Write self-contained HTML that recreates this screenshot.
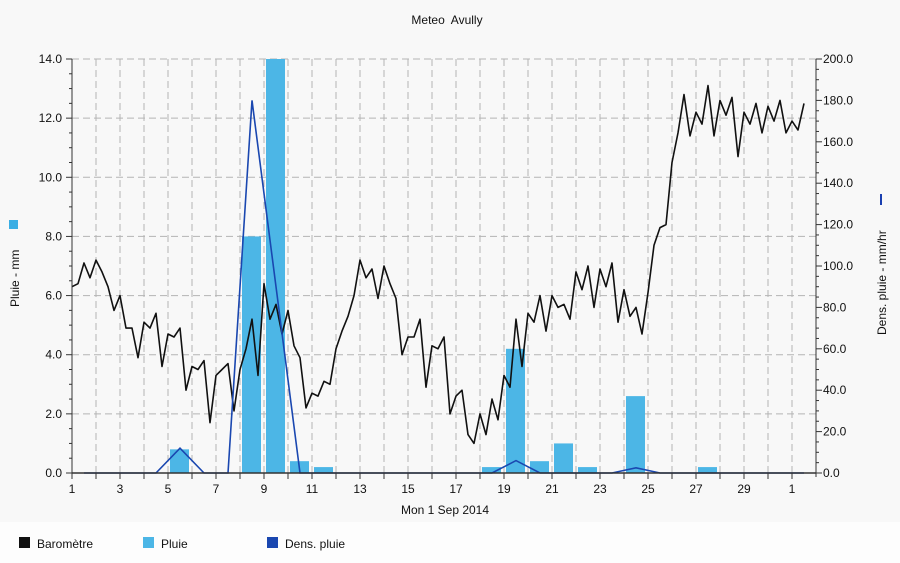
<!DOCTYPE html>
<html><head><meta charset="utf-8">
<style>
html,body{margin:0;padding:0;background:#f8f8f8;}
svg{display:block;font-family:"Liberation Sans",sans-serif;}
</style></head>
<body>
<svg id="chart" width="900" height="563" viewBox="0 0 900 563">
<rect x="0" y="0" width="900" height="563" fill="#f8f8f8"/>
<rect x="0" y="522" width="900" height="41" fill="#fdfdfd"/>
<text x="447" y="24" font-size="12" text-anchor="middle" fill="#111" style="white-space:pre">Meteo  Avully</text>
<g id="grid"></g>
<g id="bars"></g>
<g id="lines"></g>
<g id="axes"></g>
<g>
<rect x="9" y="220" width="9" height="9" fill="#3aaee4"/>
<text transform="translate(19,307) rotate(-90)" font-size="12" fill="#111">Pluie - mm</text>
</g>
<g>
<rect x="880" y="194" width="2" height="11" fill="#1a3fb0"/>
<text transform="translate(886,335) rotate(-90)" font-size="12" fill="#111">Dens. pluie - mm/hr</text>
</g>
<text x="445" y="514" font-size="12" text-anchor="middle" fill="#111">Mon 1 Sep 2014</text>
<g>
<g><rect x="19" y="537" width="11" height="11" fill="#111"/><text x="37" y="548" font-size="12" fill="#111">Baromètre</text></g>
<g><rect x="143" y="537" width="11" height="11" fill="#4cb6e6"/><text x="161" y="548" font-size="12" fill="#111">Pluie</text></g>
<g><rect x="267" y="537" width="11" height="11" fill="#1a47b0"/><text x="285" y="548" font-size="12" fill="#111">Dens. pluie</text></g>
</g>
</svg>
<script>
// data
const rainDays = [5, 8, 9, 10, 11, 18, 19, 20, 21, 22, 24, 27];
const rainMm = [0.8, 8.0, 14.0, 0.4, 0.2, 0.2, 4.2, 0.4, 1.0, 0.2, 2.6, 0.2];
const densTimes = [1.5, 4.5, 5.5, 6.5, 7.5, 8.5, 9.5, 10.5, 18.5, 19.5, 20.5, 23.5, 24.5, 25.5, 31.5];
const densValues = [0, 0, 12, 0, 0, 180, 90, 0, 0, 6, 0, 0, 2.5, 0, 0];
const baroStart = 1.0;
const baroStep = 0.25;
const baroValues = [6.3,6.4,7.1,6.6,7.2,6.8,6.3,5.5,6.0,4.9,4.9,3.9,5.1,4.9,5.4,3.6,4.7,4.6,4.9,2.8,3.6,3.5,3.8,1.7,3.3,3.5,3.7,2.1,3.5,4.2,5.2,3.3,6.4,5.2,5.7,4.7,5.5,4.3,3.9,2.2,2.7,2.6,3.1,3.0,4.2,4.8,5.3,6.0,7.2,6.6,6.9,5.9,7.0,6.4,5.9,4.0,4.6,4.6,5.2,2.9,4.3,4.2,4.6,2.0,2.6,2.8,1.3,1.0,2.0,1.3,2.5,1.8,3.3,2.9,5.2,3.6,5.4,5.1,6.0,4.8,6.0,5.6,5.7,5.2,6.8,6.2,7.0,5.6,6.9,6.3,7.1,5.1,6.2,5.3,5.6,4.7,6.1,7.7,8.3,8.4,10.5,11.5,12.8,11.4,12.2,11.8,13.1,11.4,12.6,12.1,12.7,10.7,12.2,11.8,12.5,11.5,12.4,11.9,12.6,11.5,11.9,11.6,12.5];
const xTickDays = [1,3,5,7,9,11,13,15,17,19,21,23,25,27,29,31];
const xTickLabels = ["1","3","5","7","9","11","13","15","17","19","21","23","25","27","29","1"];
const leftTicks = [0,2,4,6,8,10,12,14];
const rightTicks = [0,20,40,60,80,100,120,140,160,180,200];

const NS = "http://www.w3.org/2000/svg";
const X0 = 72, DW = 24, XR = 816, YT = 59, YB = 473;
const xs = d => X0 + (d - 1) * DW;
const yL = v => YB - v / 14 * (YB - YT);
const yR = v => YB - v / 200 * (YB - YT);
function mk(tag, attrs, parent){const e=document.createElementNS(NS,tag);for(const k in attrs)e.setAttribute(k,attrs[k]);parent.appendChild(e);return e;}
const grid=document.getElementById('grid'), bars=document.getElementById('bars'), lines=document.getElementById('lines'), axes=document.getElementById('axes');

for(let d=1; d<=32; d++){
  const x=xs(d); if(x>XR) break;
  const l=mk('line',{x1:x,y1:YT,x2:x,y2:YB,stroke:'#b4b4b4','stroke-width':1,'stroke-dasharray':'7,4'},grid);
  
  
}
leftTicks.forEach(v=>{
  const y=yL(v);
  const l=mk('line',{x1:X0,y1:y,x2:XR,y2:y,stroke:'#b4b4b4','stroke-width':1,'stroke-dasharray':'7,4'},grid);
  
  
});

rainDays.forEach((d,i)=>{
  const x=xs(d)+2, w=19, y=yL(rainMm[i]);
  const r=mk('rect',{x:x,y:y,width:w,height:YB-y,fill:'#4cb6e6'},bars);
  
  
});

let pts=baroValues.map((v,i)=>xs(baroStart+i*baroStep).toFixed(1)+','+yL(v).toFixed(1)).join(' ');
const bl=mk('polyline',{points:pts,fill:'none',stroke:'#111','stroke-width':1.6,'stroke-linejoin':'round'},lines);



pts=densTimes.map((t,i)=>xs(t).toFixed(1)+','+yR(densValues[i]).toFixed(1)).join(' ');
const dl=mk('polyline',{points:pts,fill:'none',stroke:'#1a47b0','stroke-width':1.6},lines);



const a1=mk('line',{x1:X0,y1:YT,x2:X0,y2:YB+4,stroke:'#333','stroke-width':1},axes);


const a2=mk('line',{x1:XR,y1:YT,x2:XR,y2:YB+4,stroke:'#333','stroke-width':1},axes);


const a3=mk('line',{x1:X0,y1:YB,x2:XR,y2:YB,stroke:'#333','stroke-width':1.5},axes);


for(let v=0; v<=14.001; v+=0.5){
  const y=yL(v), major=Math.abs(v-Math.round(v/2)*2)<1e-6;
  const t=mk('line',{x1:X0-(major?6:3),y1:y,x2:X0,y2:y,stroke:'#333','stroke-width':1},axes);
  
  
}
leftTicks.forEach(v=>{
  const t=mk('text',{x:X0-10,y:yL(v)+4,'font-size':12,'text-anchor':'end',fill:'#111'},axes);
  t.textContent=v.toFixed(1);
  
  
});
for(let v=0; v<=200.001; v+=5){
  const y=yR(v), major=v%20===0;
  const t=mk('line',{x1:XR,y1:y,x2:XR+(major?6:3),y2:y,stroke:'#333','stroke-width':1},axes);
  
  
}
rightTicks.forEach(v=>{
  const t=mk('text',{x:XR+7,y:yR(v)+4,'font-size':12,fill:'#111'},axes);
  t.textContent=v.toFixed(1);
  
  
});
for(let d=1; d<=31; d++){
  const t=mk('line',{x1:xs(d),y1:YB,x2:xs(d),y2:YB+6,stroke:'#333','stroke-width':1},axes);
  
  
}
xTickDays.forEach((d,i)=>{
  const t=mk('text',{x:xs(d),y:493,'font-size':12,'text-anchor':'middle',fill:'#111'},axes);
  t.textContent=xTickLabels[i];
  
  
});
</script>
</body></html>
